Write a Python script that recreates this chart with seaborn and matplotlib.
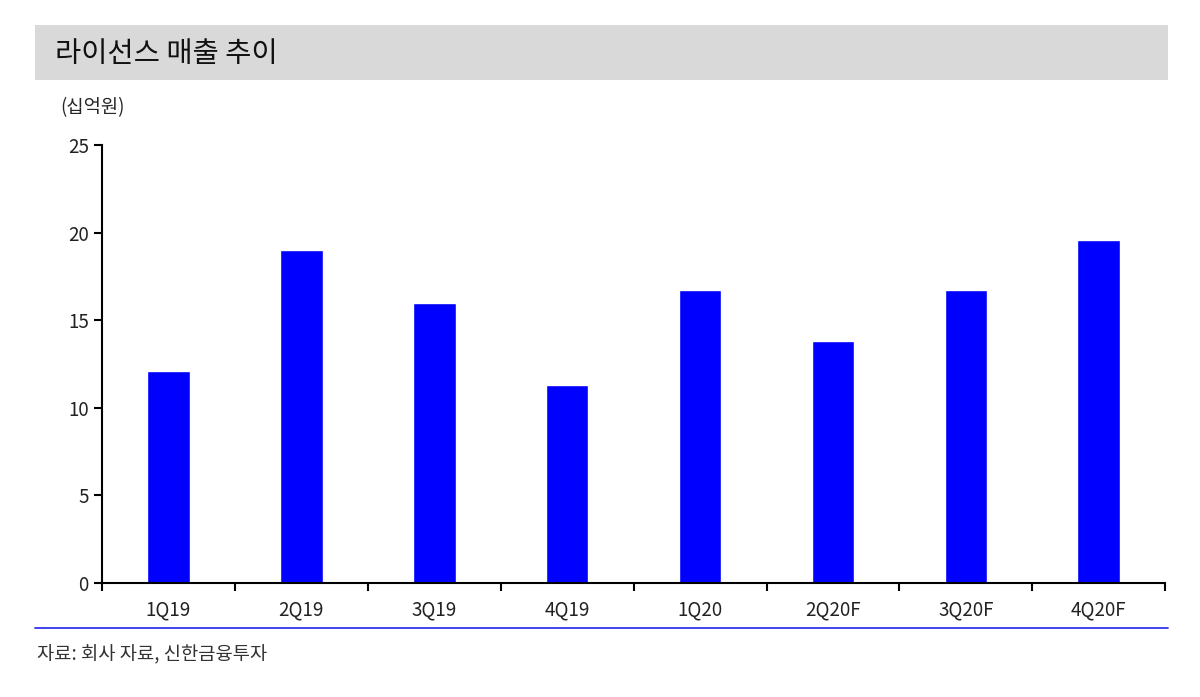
import numpy as np
import matplotlib.pyplot as plt
import matplotlib.patches as patches
import seaborn as sns
import pandas as pd

# data
quarters = ['1Q19', '2Q19', '3Q19', '4Q19', '1Q20', '2Q20F', '3Q20F', '4Q20F']
sales = [12.1, 19.0, 16.0, 11.3, 16.7, 13.8, 16.7, 19.6]
yticks = [0, 5, 10, 15, 20, 25]

df = pd.DataFrame({'quarter': quarters, 'sales': sales})

sns.set_style('white')
plt.rcParams['font.family'] = ['Noto Sans CJK KR', 'DejaVu Sans']

fig = plt.figure(figsize=(12, 6.97), dpi=100)
ax = fig.add_axes([0.085, 0.1636, 0.886, 0.6284])

sns.barplot(data=df, x='quarter', y='sales', color='#0000ff', saturation=1,
            width=0.32, ax=ax)

ax.set_xlim(-0.5, len(quarters) - 0.5)
ax.set_ylim(0, 25)
ax.set_yticks(yticks)
ax.set_xlabel('')
ax.set_ylabel('')

for s in ['top', 'right']:
    ax.spines[s].set_visible(False)
for s in ['left', 'bottom']:
    ax.spines[s].set_color('black')
    ax.spines[s].set_linewidth(1.5)

# x ticks sit between categories
ax.set_xticks(np.arange(-0.5, len(quarters)), minor=True)
ax.tick_params(axis='x', which='major', length=0, labelsize=13.5, pad=12, colors='#222222')
ax.tick_params(axis='x', which='minor', bottom=True, length=6, width=1.5,
               direction='out', color='black')
ax.tick_params(axis='y', which='major', left=True, length=6, width=1.5, direction='out',
               labelsize=13.5, labelcolor='#222222', color='black')

# title band
fig.patches.append(patches.Rectangle((35 / 1200, 1 - 80 / 697), 1133 / 1200, 55 / 697,
                                     transform=fig.transFigure, facecolor='#d9d9d9',
                                     edgecolor='none', zorder=0))
fig.text(55 / 1200, 1 - 54 / 697, '라이선스 매출 추이', fontsize=20.5, fontweight='medium',
         va='center', ha='left', color='#111111')
fig.text(60 / 1200, 1 - 108 / 697, '(십억원)', fontsize=13.5, va='center', ha='left')

# bottom rule + source
fig.add_artist(plt.Line2D([35 / 1200, 1168 / 1200], [1 - 628 / 697, 1 - 628 / 697],
                          transform=fig.transFigure, color='#3333ee', linewidth=1.3))
fig.text(37 / 1200, 1 - 655 / 697, '자료: 회사 자료, 신한금융투자', fontsize=13.5,
         va='center', ha='left', color='#333333')

fig.savefig('out.png', dpi=100)
